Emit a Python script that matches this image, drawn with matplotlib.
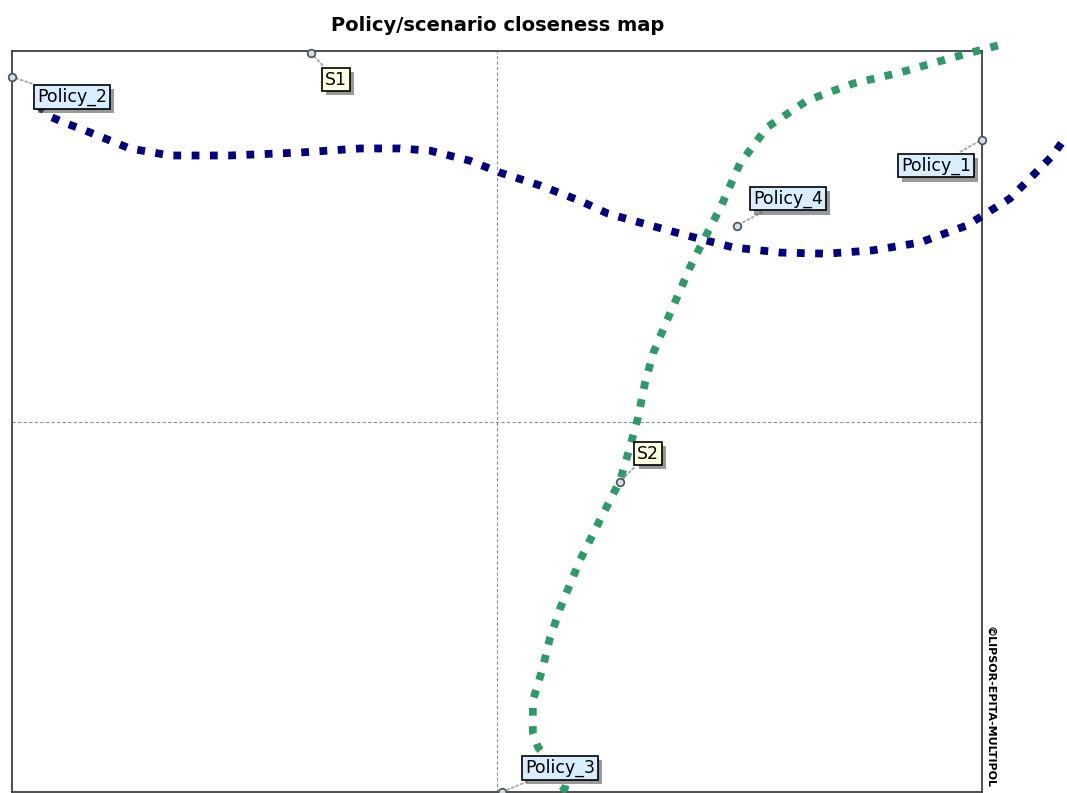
import matplotlib
matplotlib.use("Agg")
import matplotlib.pyplot as plt
import matplotlib.patheffects as pe

# ===== 点データ（ポリシー／シナリオ） =====
names = ["Policy_1", "Policy_2", "Policy_3", "Policy_4", "S1", "S2"]
xs = [1.0, -1.0, 0.01, 0.495, -0.384, 0.254]
ys = [0.761, 0.93, -1.0, 0.529, 0.996, -0.162]

# ===== 手描きの曲線（青・緑） =====
blue_x = [-0.946, -0.918, -0.887, -0.860, -0.757, -0.674, -0.551, -0.406, -0.282,
          -0.200, -0.138, -0.056, 0.006, 0.089, 0.171, 0.229, 0.295, 0.392, 0.487,
          0.584, 0.680, 0.775, 0.872, 0.969, 1.058, 1.146, 1.175]
blue_y = [0.853, 0.821, 0.804, 0.791, 0.737, 0.718, 0.718, 0.726, 0.737,
          0.737, 0.731, 0.704, 0.672, 0.637, 0.596, 0.561, 0.537, 0.502, 0.470,
          0.456, 0.453, 0.462, 0.483, 0.529, 0.602, 0.718, 0.772]

green_x = [1.033, 0.955, 0.831, 0.734, 0.639, 0.557, 0.501, 0.460, 0.429, 0.398,
           0.373, 0.346, 0.322, 0.305, 0.291, 0.274, 0.254, 0.212, 0.171, 0.130,
           0.109, 0.093, 0.074, 0.074, 0.085, 0.105, 0.130, 0.146, 0.140, 0.126]
green_y = [1.015, 0.988, 0.942, 0.912, 0.866, 0.794, 0.696, 0.575, 0.497, 0.416,
           0.340, 0.259, 0.184, 0.103, 0.011, -0.070, -0.159, -0.267, -0.375, -0.505,
           -0.586, -0.672, -0.753, -0.839, -0.880, -0.910, -0.930, -0.960, -0.990, -1.009]

# ラベル位置（点からのピクセルオフセット）
offsets = {
    "Policy_1": (-46, -26),
    "Policy_2": (60, -20),
    "Policy_3": (58, 24),
    "Policy_4": (51, 27),
    "S1": (25, -27),
    "S2": (28, 28),
}

fig = plt.figure(figsize=(10.67, 7.93), dpi=100)
ax = fig.add_axes([0.01125, 0.00126, 0.9090, 0.9344])
ax.set_xlim(-1, 1)
ax.set_ylim(-1, 1)
ax.set_xticks([])
ax.set_yticks([])
for sp in ax.spines.values():
    sp.set_color("#404040")
    sp.set_linewidth(1.3)

ax.axhline(0, color="#909090", lw=0.8, ls=(0, (3, 2)))
ax.axvline(0, color="#909090", lw=0.8, ls=(0, (3, 2)))

ax.plot(blue_x, blue_y, color="#000080", lw=5.6, ls=(0, (1, 1.35)),
        dash_capstyle="butt", clip_on=False, zorder=3)
ax.plot(green_x, green_y, color="#2e9a6a", lw=5.6, ls=(0, (1, 1.35)),
        dash_capstyle="butt", clip_on=False, zorder=3)

for name, x, y in zip(names, xs, ys):
    face = "#ffffe1" if name.startswith("S") else "#d8eefc"
    dx, dy = offsets[name]
    t = ax.annotate(name, (x, y), xytext=(dx, dy), textcoords="offset pixels",
                    ha="center", va="center", fontsize=12.5, color="black",
                    bbox=dict(boxstyle="square,pad=0.16", fc=face, ec="black", lw=1.2),
                    arrowprops=dict(arrowstyle="-", color="#a8a8a8", lw=1.4,
                                    ls=(0, (1, 1.5)), shrinkA=2, shrinkB=0),
                    zorder=5, annotation_clip=False)
    t.get_bbox_patch().set_path_effects([
        pe.SimplePatchShadow(offset=(3, -3), shadow_rgbFace="#555555", alpha=0.6),
        pe.Normal()])
    ax.plot(x, y, "o", ms=5.5, mfc="#cfe0ea", mec="#505050", mew=1.2,
            clip_on=False, zorder=6)

fig.text(0.466, 0.968, "Policy/scenario closeness map", ha="center", va="center",
         fontsize=14, fontweight="bold")
fig.text(0.928, 0.006, "©LIPSOR-EPITA-MULTIPOL", rotation=-90, ha="center",
         va="bottom", fontsize=8, fontweight="bold", family="DejaVu Sans")

fig.savefig("out.png", dpi=100)
